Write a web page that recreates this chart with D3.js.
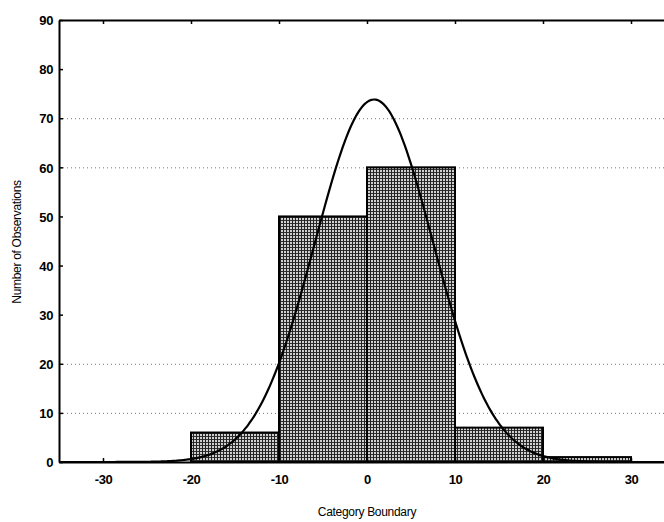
<!DOCTYPE html>
<html>
<head>
<meta charset="utf-8">
<script src="https://cdn.jsdelivr.net/npm/d3@7"></script>
<style>
  html, body { margin: 0; padding: 0; background: #fff; }
  svg { display: block; }
  text { font-family: "Liberation Sans", Arial, sans-serif; fill: #000; }
</style>
</head>
<body>
<svg id="chart" width="664" height="522"></svg>
<script>
// Histogram bins: lower/upper category boundaries and counts
const binStarts = [-20, -10, 0, 10, 20];
const binEnds   = [-10, 0, 10, 20, 30];
const counts    = [6, 50, 60, 7, 1];

// Axis ticks
const xTicks = [-30, -20, -10, 0, 10, 20, 30];
const yTicks = [0, 10, 20, 30, 40, 50, 60, 70, 80, 90];
const gridValues = [10, 20, 60, 70];

// Fitted normal curve parameters (expected counts per bin width)
const fitMean = 0.8;
const fitSd = 6.7;
const binWidth = 10;
const totalN = d3.sum(counts);

const svg = d3.select("#chart");
const plotLeft = 59, plotRight = 675, plotTop = 20, plotBottom = 462;

const x = d3.scaleLinear().domain([-35, 35]).range([plotLeft, plotRight]);
const y = d3.scaleLinear().domain([0, 90]).range([plotBottom, plotTop]);

// Stippled fill for the bars
const defs = svg.append("defs");
const pat = defs.append("pattern")
  .attr("id", "stipple").attr("patternUnits", "userSpaceOnUse")
  .attr("width", 3).attr("height", 3);
pat.append("rect").attr("width", 3).attr("height", 3).attr("fill", "#cfcfcf");
pat.append("rect").attr("x", 0).attr("y", 1).attr("width", 3).attr("height", 1).attr("fill", "#333");
pat.append("rect").attr("x", 1).attr("y", 0).attr("width", 1).attr("height", 3).attr("fill", "#222");

defs.append("clipPath").attr("id", "plotClip")
  .append("rect").attr("x", plotLeft).attr("y", plotTop)
  .attr("width", plotRight - plotLeft).attr("height", plotBottom - plotTop);

// Dotted gridlines
svg.append("g")
  .selectAll("line").data(gridValues).join("line")
  .attr("x1", plotLeft + 4).attr("x2", plotRight)
  .attr("y1", d => y(d) + 0.5).attr("y2", d => y(d) + 0.5)
  .attr("stroke", "#777").attr("stroke-width", 1)
  .attr("stroke-dasharray", "1,3");

// Bars
const bins = counts.map((c, i) => ({ x0: binStarts[i], x1: binEnds[i], n: c }));
svg.append("g")
  .selectAll("rect").data(bins).join("rect")
  .attr("x", d => x(d.x0))
  .attr("y", d => y(d.n))
  .attr("width", d => x(d.x1) - x(d.x0))
  .attr("height", d => y(0) - y(d.n))
  .attr("fill", "url(#stipple)")
  .attr("stroke", "#000").attr("stroke-width", 2);

// Normal fit curve
const scale = totalN * binWidth / (fitSd * Math.sqrt(2 * Math.PI));
const curvePts = d3.range(-35, 35.01, 0.25).map(v => [v, scale * Math.exp(-((v - fitMean) ** 2) / (2 * fitSd * fitSd))]);
svg.append("path")
  .datum(curvePts)
  .attr("clip-path", "url(#plotClip)")
  .attr("fill", "none").attr("stroke", "#000").attr("stroke-width", 2.2)
  .attr("d", d3.line().x(d => x(d[0])).y(d => y(d[1])).curve(d3.curveBasis));

// Axes (ticks point inward); labels use a plain hyphen for negatives
const fmt = d => String(d);
const xAxis = svg.append("g").attr("transform", `translate(0,${plotBottom})`)
  .call(d3.axisBottom(x).tickValues(xTicks).tickFormat(fmt).tickSizeInner(-4).tickSizeOuter(0).tickPadding(13));
const xTop = svg.append("g").attr("transform", `translate(0,${plotTop})`)
  .call(d3.axisTop(x).tickValues(xTicks).tickSizeInner(-4).tickSizeOuter(0).tickFormat(""));
const yAxis = svg.append("g").attr("transform", `translate(${plotLeft},0)`)
  .call(d3.axisLeft(y).tickValues(yTicks).tickFormat(fmt).tickSizeInner(-4).tickSizeOuter(0).tickPadding(6));

[xAxis, xTop, yAxis].forEach(g => {
  g.select(".domain").attr("stroke", "#000").attr("stroke-width", 2);
  g.selectAll(".tick line").attr("stroke", "#000").attr("stroke-width", 1.5);
  g.selectAll("text").attr("font-size", 13).attr("font-weight", "bold")
    .attr("letter-spacing", "-0.4")
    .attr("font-family", "Liberation Sans, Arial, sans-serif").attr("fill", "#000");
});
yAxis.selectAll(".tick text").attr("dy", "0.36em");

// Axis titles
svg.append("text")
  .attr("x", x(0)).attr("y", 516)
  .attr("text-anchor", "middle").attr("font-size", 12)
  .attr("letter-spacing", "-0.3")
  .text("Category Boundary");
svg.append("text")
  .attr("transform", `translate(21,242) rotate(-90)`)
  .attr("text-anchor", "middle").attr("font-size", 12)
  .attr("letter-spacing", "-0.3")
  .text("Number of Observations");
</script>
</body>
</html>
